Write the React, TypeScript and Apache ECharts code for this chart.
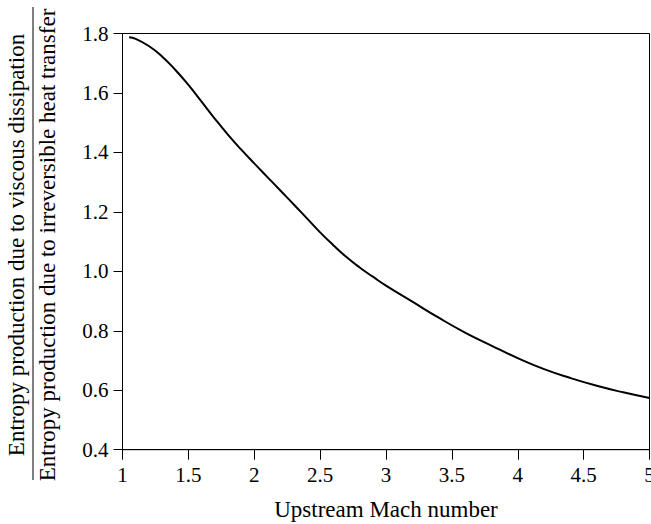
import React, { useEffect, useRef } from "react";
import * as echarts from "echarts";

const machNumbers = [1.05, 1.1, 1.2, 1.3, 1.4, 1.5, 1.6, 1.7, 1.8, 1.9, 2.0, 2.1, 2.2, 2.3, 2.4, 2.5, 2.6, 2.7, 2.8, 2.9, 3.0, 3.2, 3.4, 3.6, 3.8, 4.0, 4.2, 4.4, 4.6, 4.8, 5.0];
const entropyRatio = [1.787, 1.782, 1.758, 1.723, 1.678, 1.627, 1.571, 1.514, 1.46, 1.41, 1.363, 1.317, 1.271, 1.225, 1.178, 1.131, 1.088, 1.048, 1.013, 0.982, 0.952, 0.898, 0.844, 0.794, 0.75, 0.708, 0.671, 0.641, 0.615, 0.593, 0.574];
const yTitleTop = "Entropy production due to viscous dissipation";
const yTitleBottom = "Entropy production due to irreversible heat transfer";
const xTitle = "Upstream Mach number";

const FONT = "Liberation Serif";

export default function App() {
  const ref = useRef<HTMLDivElement>(null);
  useEffect(() => {
    document.body.style.margin = "0";
    const chart = echarts.init(ref.current!, null, { renderer: "svg" });
    const data = machNumbers.map((m, i) => [m, entropyRatio[i]]);
    chart.setOption({
      animation: false,
      backgroundColor: "#ffffff",
      grid: {
        left: 122.5,
        right: 1.5,
        top: 33.5,
        bottom: 74.3,
        show: true,
        borderColor: "#000",
        borderWidth: 1,
        backgroundColor: "transparent",
        outerBoundsMode: "none",
        containLabel: false,
      },
      xAxis: {
        type: "value",
        min: 1,
        max: 5,
        interval: 0.5,
        splitLine: { show: false },
        axisLine: { lineStyle: { color: "#000", width: 1 } },
        axisTick: { length: 10, lineStyle: { color: "#000" } },
        axisLabel: { color: "#000", fontFamily: FONT, fontSize: 21, margin: 15, hideOverlap: false },
        name: xTitle,
        nameLocation: "middle",
        nameGap: 48,
        nameTextStyle: { color: "#000", fontFamily: FONT, fontSize: 23 },
      },
      yAxis: {
        type: "value",
        min: 0.4,
        max: 1.8,
        interval: 0.2,
        splitLine: { show: false },
        axisLine: { show: true, lineStyle: { color: "#000", width: 1 } },
        axisTick: { show: true, length: 9, lineStyle: { color: "#000" } },
        axisLabel: {
          color: "#000",
          fontFamily: FONT,
          fontSize: 21,
          margin: 14,
          formatter: (v: number) => v.toFixed(1),
        },
      },
      graphic: [
        {
          type: "text",
          x: 16,
          y: 245,
          rotation: Math.PI / 2,
          style: {
            text: yTitleTop,
            fontFamily: FONT,
            fontSize: 23,
            fill: "#000",
            align: "center",
            verticalAlign: "middle",
          },
        },
        {
          type: "line",
          shape: { x1: 33, y1: 7, x2: 33, y2: 480 },
          style: { stroke: "#000", lineWidth: 1 },
        },
        {
          type: "text",
          x: 47,
          y: 245,
          rotation: Math.PI / 2,
          style: {
            text: yTitleBottom,
            fontFamily: FONT,
            fontSize: 23,
            fill: "#000",
            align: "center",
            verticalAlign: "middle",
          },
        },
      ],
      series: [
        {
          type: "line",
          data,
          smooth: 0.5,
          symbol: "none",
          lineStyle: { color: "#000", width: 2 },
        },
      ],
    });
    return () => chart.dispose();
  }, []);
  return <div ref={ref} style={{ position: "absolute", left: 0, top: 0, width: 651, height: 524 }} />;
}
